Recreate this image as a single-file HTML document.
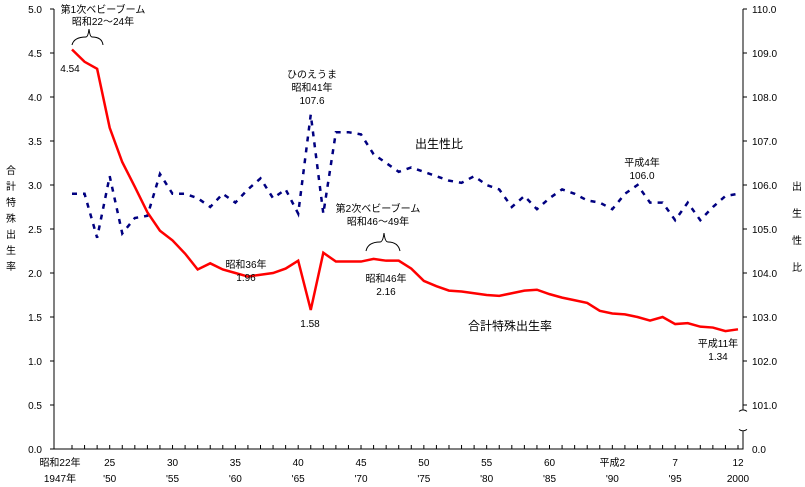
<!DOCTYPE html>
<html><head><meta charset="utf-8"><style>
body{margin:0;background:#fff}
svg{display:block;font-family:"Liberation Sans","Noto Sans CJK JP",sans-serif;font-size:10px}
</style></head><body>
<svg id="c" width="805" height="487" viewBox="0 0 805 487">
<g id="axes"></g><g id="series"></g><g id="notes"></g>
</svg>
<script>
const years=[];for(let y=1947;y<=2000;y++)years.push(y);
const tfr=[4.54,4.40,4.32,3.65,3.26,2.98,2.69,2.48,2.37,2.22,2.04,2.11,2.04,2.00,1.96,1.98,2.00,2.05,2.14,1.58,2.23,2.13,2.13,2.13,2.16,2.14,2.14,2.05,1.91,1.85,1.80,1.79,1.77,1.75,1.74,1.77,1.80,1.81,1.76,1.72,1.69,1.66,1.57,1.54,1.53,1.50,1.46,1.50,1.42,1.43,1.39,1.38,1.34,1.36];
const sexRatio=[105.8,105.8,104.8,106.2,104.9,105.25,105.3,106.25,105.8,105.8,105.7,105.5,105.8,105.6,105.9,106.15,105.7,105.9,105.35,107.6,105.35,107.2,107.2,107.15,106.7,106.5,106.3,106.4,106.3,106.2,106.1,106.05,106.2,106.0,105.9,105.5,105.75,105.45,105.7,105.9,105.8,105.65,105.6,105.45,105.8,106.0,105.6,105.6,105.2,105.6,105.2,105.5,105.75,105.8];
const leftTicks=["0.0","0.5","1.0","1.5","2.0","2.5","3.0","3.5","4.0","4.5","5.0"];
const rightTicks=["101.0","102.0","103.0","104.0","105.0","106.0","107.0","108.0","109.0","110.0"];
const xLabels=[[1950,"25","'50"],[1955,"30","'55"],[1960,"35","'60"],[1965,"40","'65"],[1970,"45","'70"],[1975,"50","'75"],[1980,"55","'80"],[1985,"60","'85"],[1990,"平成2","'90"],[1995,"7","'95"],[2000,"12","2000"]];
const NS="http://www.w3.org/2000/svg";
const X=y=>72+(y-1947)*(666/53);
const YL=v=>449-v*88;
const YR=v=>449-(v-100)*44;
function el(p,t,a,txt){const e=document.createElementNS(NS,t);for(const k in a)e.setAttribute(k,a[k]);if(txt!==undefined)e.textContent=txt;p.appendChild(e);return e;}
const ax=document.getElementById('axes'),se=document.getElementById('series'),no=document.getElementById('notes');
let e;
e=el(ax,'path',{d:'M54,9V449H743V'+YR(100.4)+'M743,'+YR(100.9)+'V9',stroke:'#000',fill:'none','stroke-width':1});

el(ax,'path',{d:'M739,'+(YR(100.9)+2)+'q4,-3 8,0M739,'+(YR(100.4)-2)+'q4,3 8,0',stroke:'#000',fill:'none'});
leftTicks.forEach((t,i)=>{const v=i*0.5;el(ax,'line',{x1:50,x2:54,y1:YL(v),y2:YL(v),stroke:'#000'});
e=el(ax,'text',{x:42,y:YL(v)+4,'text-anchor':'end'},t);});
rightTicks.forEach((t,i)=>{const v=101+i;el(ax,'line',{x1:743,x2:747,y1:YR(v),y2:YR(v),stroke:'#000'});
e=el(ax,'text',{x:752,y:YR(v)+4},t);});
e=el(ax,'text',{x:752,y:453},"0.0");
years.forEach(y=>el(ax,'line',{x1:X(y),x2:X(y),y1:445,y2:449,stroke:'#000'}));
xLabels.forEach(([y,a,b])=>{e=el(ax,'text',{x:X(y),y:466,'text-anchor':'middle'},a);
e=el(ax,'text',{x:X(y),y:482,'text-anchor':'middle'},b);});
e=el(ax,'text',{x:60,y:466,'text-anchor':'middle'},"昭和22年");
e=el(ax,'text',{x:60,y:482,'text-anchor':'middle'},"1947年");
"合計特殊出生率".split('').forEach((c,i)=>{e=el(ax,'text',{x:11,y:174+i*16,'text-anchor':'middle'},c);});
"出生性比".split('').forEach((c,i)=>{e=el(ax,'text',{x:797,y:190+i*27,'text-anchor':'middle'},c);});
e=el(se,'polyline',{points:years.map((y,i)=>X(y)+','+YR(sexRatio[i])).join(' '),fill:'none',stroke:'#000080','stroke-width':2.5,'stroke-dasharray':'5,6'});

e=el(se,'polyline',{points:years.map((y,i)=>X(y)+','+YL(tfr[i])).join(' '),fill:'none',stroke:'#ff0000','stroke-width':2.5});

const notes=[[103,13,"第1次ベビーブーム"],[103,25,"昭和22～24年"],[70,72,"4.54"],[312,78,"ひのえうま"],[312,91,"昭和41年"],[312,104,"107.6"],[642,166,"平成4年"],[642,179,"106.0"],[378,212,"第2次ベビーブーム"],[378,225,"昭和46～49年"],[246,268,"昭和36年"],[246,281,"1.96"],[386,282,"昭和46年"],[386,295,"2.16"],[310,327,"1.58"],[718,347,"平成11年"],[718,360,"1.34"]];
notes.forEach(([x,y,t])=>{e=el(no,'text',{x:x,y:y,'text-anchor':'middle'},t);});
e=el(no,'text',{x:415,y:148,'font-size':12},"出生性比");
e=el(no,'text',{x:468,y:330,'font-size':12},"合計特殊出生率");
el(no,'path',{d:'M72,45q2,-8 14,-8q2,0 3,-8q1,8 3,8q10,0 11,8',stroke:'#000',fill:'none'});
el(no,'path',{d:'M366,251q2,-9 14,-9q3,0 4,-9q1,9 4,9q10,0 12,9',stroke:'#000',fill:'none'});
</script>
</body></html>
